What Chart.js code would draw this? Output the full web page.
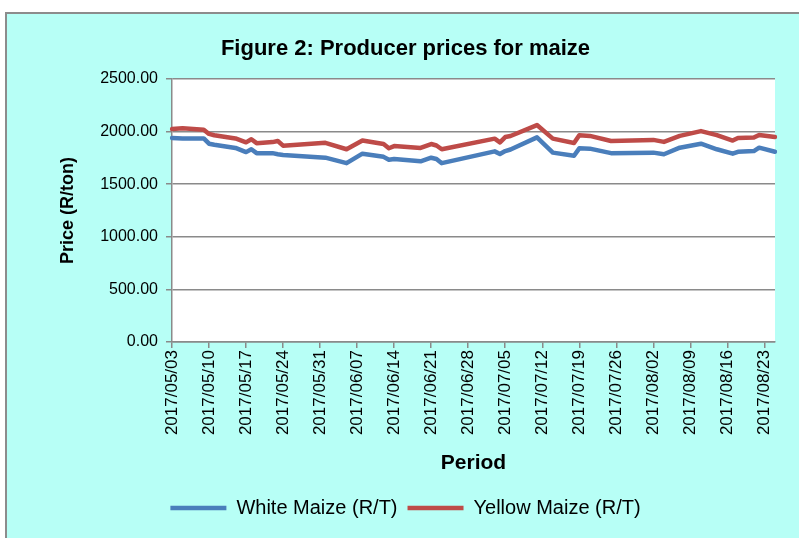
<!DOCTYPE html>
<html>
<head>
<meta charset="utf-8">
<script src="https://cdn.jsdelivr.net/npm/chart.js@4.4.1/dist/chart.umd.min.js"></script>
<style>
  html, body { margin: 0; padding: 0; background: #fff; }
  #frame { position: absolute; left: 5px; top: 12px; width: 794px; height: 526px;
           background: #b7fff6; border-left: 2px solid #8c8c8c; border-top: 2px solid #8c8c8c; box-sizing: border-box; }
  #chart { position: absolute; left: 0; top: 0; }
</style>
</head>
<body>
<div id="frame"></div>
<canvas id="chart" width="799" height="538"></canvas>
<script>
// Data
const startDate = "2017/05/03";
const endDate = "2017/08/25";
const obsDates = ["2017/05/03", "2017/05/05", "2017/05/09", "2017/05/10", "2017/05/11", "2017/05/15", "2017/05/17",
  "2017/05/18", "2017/05/19", "2017/05/22", "2017/05/23", "2017/05/24", "2017/06/01", "2017/06/05", "2017/06/08",
  "2017/06/12", "2017/06/13", "2017/06/14", "2017/06/19", "2017/06/21", "2017/06/22", "2017/06/23", "2017/07/03",
  "2017/07/04", "2017/07/05", "2017/07/06", "2017/07/11", "2017/07/14", "2017/07/18", "2017/07/19", "2017/07/21",
  "2017/07/25", "2017/08/02", "2017/08/04", "2017/08/07", "2017/08/11", "2017/08/14", "2017/08/17", "2017/08/18",
  "2017/08/21", "2017/08/22", "2017/08/25"];
const whiteMaize = [1940, 1935, 1935, 1885, 1875, 1845, 1805, 1832, 1795, 1795, 1785, 1778, 1752, 1700, 1790,
  1760, 1732, 1740, 1718, 1752, 1740, 1700, 1812, 1787, 1815, 1830, 1945, 1800, 1770, 1841, 1838,
  1795, 1800, 1785, 1847, 1885, 1832, 1790, 1808, 1815, 1847, 1808];
const yellowMaize = [2025, 2032, 2018, 1978, 1965, 1935, 1898, 1927, 1890, 1900, 1911, 1866, 1893, 1832, 1915,
  1882, 1842, 1862, 1845, 1882, 1868, 1832, 1933, 1897, 1948, 1958, 2062, 1933, 1892, 1966, 1959,
  1911, 1921, 1902, 1959, 2005, 1966, 1915, 1940, 1943, 1968, 1948];
const yTicks = [0, 500, 1000, 1500, 2000, 2500];

// daily category labels, one tick label per week
function fmt(d) {
  const m = String(d.getUTCMonth() + 1).padStart(2, "0");
  const day = String(d.getUTCDate()).padStart(2, "0");
  return d.getUTCFullYear() + "/" + m + "/" + day;
}
const days = [];
for (let d = new Date(startDate.replace(/\//g, "-") + "T00:00:00Z");
     fmt(d) <= endDate; d = new Date(d.getTime() + 86400000)) {
  days.push(fmt(d));
}

const FONT = "'Liberation Sans', Arial, sans-serif";

const plotBg = {
  id: "plotBg",
  beforeDraw(chart) {
    const { ctx, chartArea: a } = chart;
    ctx.save();
    ctx.fillStyle = "#ffffff";
    ctx.fillRect(a.left, a.top, a.right - a.left, a.bottom - a.top);
    ctx.restore();
  },
};

new Chart(document.getElementById("chart"), {
  type: "line",
  data: {
    labels: days,
    datasets: [
      {
        label: "White Maize (R/T)",
        data: obsDates.map((d, i) => ({ x: d, y: whiteMaize[i] })),
        borderColor: "#4a7ebb",
        backgroundColor: "#4a7ebb",
        borderWidth: 4.5,
        borderCapStyle: "round",
        borderJoinStyle: "round",
        pointRadius: 0,
        tension: 0,
      },
      {
        label: "Yellow Maize (R/T)",
        data: obsDates.map((d, i) => ({ x: d, y: yellowMaize[i] })),
        borderColor: "#be4b48",
        backgroundColor: "#be4b48",
        borderWidth: 4.5,
        borderCapStyle: "round",
        borderJoinStyle: "round",
        pointRadius: 0,
        tension: 0,
      },
    ],
  },
  options: {
    responsive: false,
    animation: false,
    layout: { padding: { left: 12, right: 0, top: 0, bottom: 10 } },
    plugins: {
      title: {
        display: true,
        text: "Figure 2: Producer prices for maize",
        color: "#000",
        font: { family: FONT, size: 22, weight: "bold" },
        padding: { top: 36, bottom: 16.6 },
      },
      legend: {
        position: "bottom",
        labels: {
          usePointStyle: true,
          pointStyle: "line",
          pointStyleWidth: 56,
          color: "#000",
          padding: 10,
          font: { family: FONT, size: 20 },
        },
      },
      tooltip: { enabled: false },
    },
    scales: {
      x: {
        type: "category",
        offset: false,
        afterFit(scale) { scale.height = 146; },
        grid: { drawOnChartArea: false, drawTicks: true, tickLength: 6, color: "#8a8a8a", lineWidth: 1.5 },
        border: { display: true, color: "#8a8a8a", width: 1.5 },
        ticks: {
          autoSkip: false,
          minRotation: 90,
          maxRotation: 90,
          padding: 2,
          color: "#000",
          font: { family: FONT, size: 17 },
          callback(value, index) { return index % 7 === 0 ? days[index] : null; },
        },
        title: {
          display: true,
          text: "Period",
          color: "#000",
          font: { family: FONT, size: 21, weight: "bold" },
          padding: { top: 0, bottom: 12 },
        },
      },
      y: {
        min: yTicks[0],
        max: yTicks[yTicks.length - 1],
        afterFit(scale) { scale.width = 160; },
        afterBuildTicks(scale) { scale.ticks = yTicks.map(v => ({ value: v })); },
        grid: { color: "#8a8a8a", lineWidth: 1.5, tickLength: 6 },
        border: { display: true, color: "#8a8a8a", width: 1.5 },
        ticks: {
          padding: 8,
          color: "#000",
          font: { family: FONT, size: 16 },
          callback: v => Number(v).toFixed(2),
        },
        title: {
          display: true,
          text: "Price (R/ton)",
          color: "#000",
          font: { family: FONT, size: 18, weight: "bold" },
          padding: { top: 45, bottom: 0 },
        },
      },
      // empty right-hand spacer keeps the plot edge where the reference has it
      spacer: {
        type: "linear",
        position: "right",
        afterFit(scale) { scale.width = 24; },
        grid: { display: false },
        border: { display: false },
        ticks: { display: false },
      },
    },
  },
  plugins: [plotBg],
});
</script>
</body>
</html>
